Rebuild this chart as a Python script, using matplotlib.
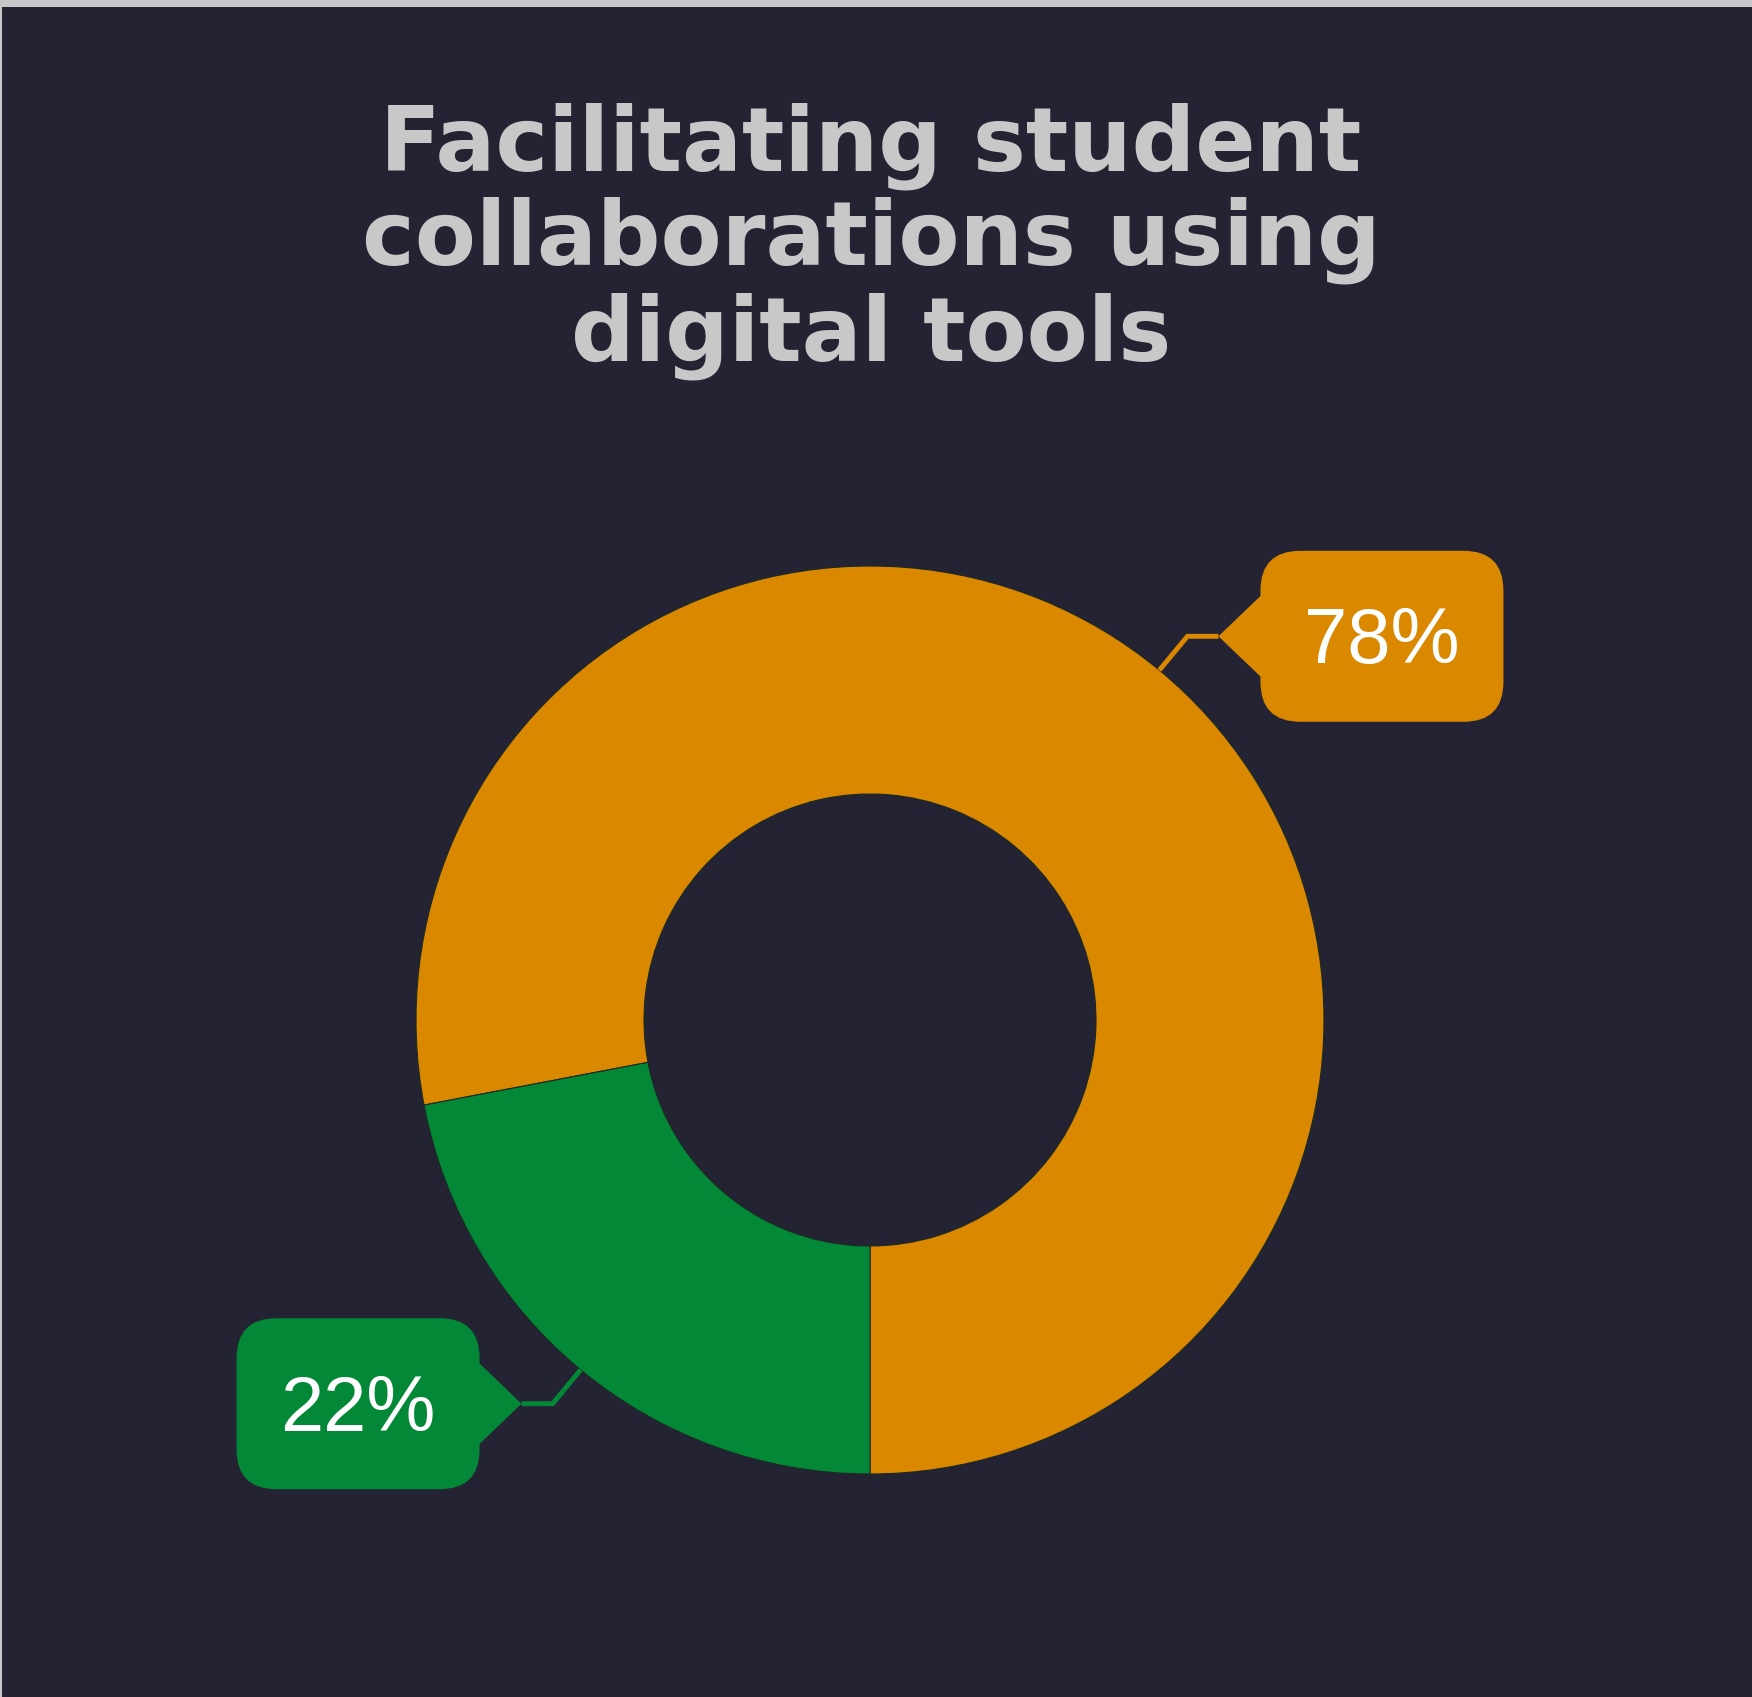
import numpy as np
import matplotlib
matplotlib.use("Agg")
import matplotlib.pyplot as plt
from matplotlib.patches import FancyBboxPatch, Polygon, Rectangle

W, H = 1752, 1697

title_lines = ["Facilitating student", "collaborations using", "digital tools"]
shares = [78, 22]
share_labels = ["78%", "22%"]
share_colors = ["#d98800", "#038838"]

bg = "#232333"
title_color = "#c8c8c8"

fig = plt.figure(figsize=(W / 100, H / 100), dpi=100, facecolor="#c8c8c8")
ax = fig.add_axes([0, 0, 1, 1])
ax.add_patch(Rectangle((2, 0), W - 2, H - 7, facecolor=bg, edgecolor="none", zorder=0))

# donut, pixel coords with y going up
cx, cy = 870, H - 1020
r_out, r_in = 454, 226
wedges, _ = ax.pie(shares, colors=share_colors, startangle=-90, counterclock=True,
                   radius=r_out, center=(cx, cy), frame=True,
                   wedgeprops=dict(width=r_out - r_in, edgecolor="#1c2a24", linewidth=0.8))

ax.set_xlim(0, W)
ax.set_ylim(0, H)
ax.axis("off")

# title
baselines = [170, 265, 360]
for line, yb in zip(title_lines, baselines):
    ax.text(871, H - yb, line, ha="center", va="baseline", color=title_color,
            fontsize=64, fontweight="bold", family=["DejaVu Sans"])

# callout labels
box_w, box_h = 243, 171
for w, lab, col in zip(wedges, share_labels, share_colors):
    mid = np.deg2rad((w.theta1 + w.theta2) / 2)
    c, s = np.cos(mid), np.sin(mid)
    p0 = (cx + r_out * c, cy + r_out * s)
    elbow = (cx + (r_out + 44) * c, cy + (r_out + 44) * s)
    side = 1 if c >= 0 else -1
    tip = (elbow[0] + side * 31, elbow[1])
    ax.plot([p0[0], elbow[0], tip[0]], [p0[1], elbow[1], tip[1]], color=col,
            lw=3.5, solid_capstyle="butt", solid_joinstyle="miter", zorder=3)
    base_x = tip[0] + side * 42
    if side > 0:
        left = base_x
    else:
        left = base_x - box_w
    ax.add_patch(Polygon([tip, (base_x + side * 5, tip[1] + 45), (base_x + side * 5, tip[1] - 45)],
                         closed=True, facecolor=col, edgecolor="none", zorder=4))
    ax.add_patch(FancyBboxPatch((left, tip[1] - box_h / 2), box_w, box_h,
                                boxstyle="round,pad=0,rounding_size=40",
                                facecolor=col, edgecolor="none", zorder=4))
    ax.text(left + box_w / 2, tip[1] - 27, lab, ha="center", va="baseline", color="white",
            fontsize=56, family=["Liberation Sans", "DejaVu Sans"], zorder=5)

fig.savefig("out.png", dpi=100, facecolor=fig.get_facecolor())
